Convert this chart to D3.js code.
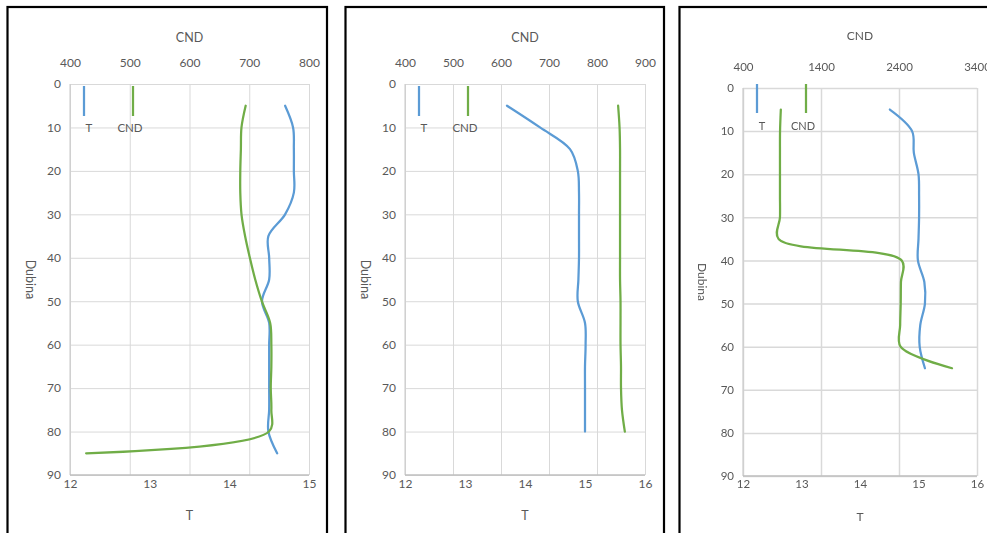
<!DOCTYPE html>
<html>
<head>
<meta charset="utf-8">
<script src="https://cdn.jsdelivr.net/npm/d3@7.9.0/dist/d3.min.js"></script>
<style>
  body { margin: 0; background: #fff; }
  svg { display: block; }
  text { font-family: Lato, "Open Sans", sans-serif; fill: #595959; }
</style>
</head>
<body>
<svg id="chart" width="987" height="533"></svg>
<script>
// ---- data ----
// profile 1
const depth1 = [5, 10, 15, 20, 25, 30, 35, 40, 45, 50, 55, 60, 65, 70, 75, 80, 85];
const temp1  = [14.70, 14.80, 14.81, 14.81, 14.81, 14.70, 14.49, 14.50, 14.50, 14.41, 14.50, 14.50, 14.50, 14.50, 14.50, 14.49, 14.60];
const cnd1   = [694, 687, 686, 685, 685, 687, 693, 701, 710, 721, 735, 737, 737, 736, 737, 733, 427];

// profile 2
const depth2 = [5, 10, 15, 20, 25, 30, 35, 40, 45, 50, 55, 60, 65, 70, 75, 80];
const temp2  = [13.70, 14.25, 14.75, 14.88, 14.90, 14.90, 14.90, 14.90, 14.89, 14.88, 15.00, 15.01, 15.00, 15.00, 15.00, 15.00];
const cnd2   = [844, 847, 848, 848, 848, 848, 848, 848, 848, 849, 849, 849, 850, 850, 852, 858];

// profile 3
const depth3 = [5, 10, 15, 20, 25, 30, 35, 40, 45, 50, 55, 60, 65];
const temp3  = [14.51, 14.89, 14.92, 15.00, 15.01, 15.01, 15.00, 14.99, 15.10, 15.11, 15.03, 15.02, 15.11];
const cnd3   = [885, 875, 874, 874, 874, 874, 855, 2435, 2425, 2422, 2415, 2420, 3080];

// tick labels
const depthTicks = [0, 10, 20, 30, 40, 50, 60, 70, 80, 90];
const tTicks1    = [12, 13, 14, 15];
const tTicks2    = [12, 13, 14, 15, 16];
const cndTicks1  = [400, 500, 600, 700, 800];
const cndTicks2  = [400, 500, 600, 700, 800, 900];
const cndTicks3  = [400, 1400, 2400, 3400];

const seriesNames = ["T", "CND"];
const colors = { T: "#5b9bd5", CND: "#70ad47" };

///////////////////////////////////////////////////////

const svg = d3.select("#chart");

svg.append("defs").append("filter")
    .attr("id", "soft")
    .append("feGaussianBlur")
    .attr("stdDeviation", 0.55);

const fmt = d3.format("d");

// FUNCTION draw one profile panel
function drawPanel(cfg) {
    const { left, right, top, bottom } = cfg.plot;

    const g = svg.append("g");
    if (cfg.blur) g.attr("filter", "url(#soft)");

    const tScale = d3.scaleLinear().domain(cfg.tDomain).range([left, right]);
    const cScale = d3.scaleLinear().domain(cfg.cDomain).range([left, right]);
    const yScale = d3.scaleLinear().domain([0, 90]).range([top, bottom]);

    // horizontal grid
    g.append("g")
        .attr("transform", `translate(${left},0)`)
        .call(d3.axisLeft(yScale).tickValues(depthTicks).tickSize(-(right - left)).tickFormat(""))
        .call(a => a.select(".domain").remove())
        .selectAll("line").attr("stroke", "#d9d9d9").attr("stroke-width", cfg.gridW);

    // vertical grid (from secondary CND axis)
    g.append("g")
        .attr("transform", `translate(0,${top})`)
        .call(d3.axisTop(cScale).tickValues(cfg.cTicks).tickSize(-(bottom - top)).tickFormat(""))
        .call(a => a.select(".domain").remove())
        .selectAll("line").attr("stroke", "#d9d9d9").attr("stroke-width", cfg.gridW);

    // axis lines
    g.append("line")
        .attr("x1", left).attr("x2", left).attr("y1", top).attr("y2", bottom)
        .attr("stroke", "#c8c8c8").attr("stroke-width", 1);
    g.append("line")
        .attr("x1", left).attr("x2", right).attr("y1", bottom).attr("y2", bottom)
        .attr("stroke", "#bfbfbf").attr("stroke-width", 1.5);

    // tick labels
    const styleTicks = a => {
        a.select(".domain").remove();
        a.attr("font-family", null).attr("font-size", null);
        a.selectAll("text").style("font-size", cfg.fs + "px").attr("fill", "#595959");
    };

    g.append("g")
        .attr("transform", `translate(0,${top})`)
        .call(d3.axisTop(cScale).tickValues(cfg.cTicks).tickFormat(fmt).tickSize(0).tickPadding(cfg.topPad))
        .call(styleTicks);

    g.append("g")
        .attr("transform", `translate(0,${bottom})`)
        .call(d3.axisBottom(tScale).tickValues(cfg.tTicks).tickFormat(fmt).tickSize(0).tickPadding(4))
        .call(styleTicks);

    g.append("g")
        .attr("transform", `translate(${left},0)`)
        .call(d3.axisLeft(yScale).tickValues(depthTicks).tickFormat(fmt).tickSize(0).tickPadding(9))
        .call(styleTicks);

    // axis titles
    const midX = (left + right) / 2;
    const midY = (top + bottom) / 2;
    g.append("text").attr("x", midX).attr("y", cfg.cndTitleY)
        .attr("text-anchor", "middle").attr("dominant-baseline", "central")
        .style("font-size", (cfg.fs + 0.5) + "px").text("CND");
    g.append("text").attr("x", midX).attr("y", bottom + 40)
        .attr("text-anchor", "middle").attr("dominant-baseline", "central")
        .style("font-size", (cfg.fs + 0.5) + "px").text("T");
    g.append("text")
        .attr("transform", `translate(${left - 40},${midY}) rotate(90)`)
        .attr("text-anchor", "middle").attr("dominant-baseline", "central")
        .style("font-size", (cfg.fs + 0.5) + "px").text("Dubina");

    // series lines
    const curve = d3.curveCatmullRom.alpha(0.5);
    const tLine = d3.line()
        .x((d, i) => tScale(cfg.temp[i]))
        .y(d => yScale(d))
        .curve(curve);
    const cLine = d3.line()
        .x((d, i) => cScale(cfg.cnd[i]))
        .y(d => yScale(d))
        .curve(curve);

    g.append("path").datum(cfg.depth)
        .attr("d", tLine)
        .attr("fill", "none").attr("stroke", colors.T).attr("stroke-width", 2.25)
        .attr("stroke-linejoin", "round").attr("stroke-linecap", "round");
    g.append("path").datum(cfg.depth)
        .attr("d", cLine)
        .attr("fill", "none").attr("stroke", colors.CND).attr("stroke-width", 2.25)
        .attr("stroke-linejoin", "round").attr("stroke-linecap", "round");

    // legend (vertical line samples)
    const lg = cfg.legend;
    seriesNames.forEach((name, i) => {
        const lx = left + lg.dx[i];
        g.append("line")
            .attr("x1", lx).attr("x2", lx)
            .attr("y1", top + lg.y1).attr("y2", top + lg.y2)
            .attr("stroke", colors[name]).attr("stroke-width", 2.25);
        g.append("text")
            .attr("x", lx + lg.tdx[i]).attr("y", top + lg.ty)
            .attr("text-anchor", "middle").attr("dominant-baseline", "central")
            .style("font-size", (cfg.fs - 0.5) + "px")
            .text(name);
    });

    // frame
    svg.append("rect")
        .attr("x", cfg.frame.x).attr("y", cfg.frame.y)
        .attr("width", cfg.frame.w).attr("height", cfg.frame.h)
        .attr("fill", "none").attr("stroke", "#000").attr("stroke-width", 2.2);
}

const panels = [
    {
        frame: { x: 7.5, y: 7, w: 319.5, h: 560 },
        plot: { left: 70, right: 309, top: 84, bottom: 475 },
        tDomain: [12, 15], tTicks: tTicks1,
        cDomain: [400, 800], cTicks: cndTicks1,
        depth: depth1, temp: temp1, cnd: cnd1,
        fs: 12, topPad: 17, cndTitleY: 37, gridW: 1,
        legend: { dx: [14, 63], tdx: [5, -3], y1: 2, y2: 32, ty: 43 }
    },
    {
        frame: { x: 345.5, y: 7, w: 318.5, h: 560 },
        plot: { left: 405, right: 645, top: 84, bottom: 475 },
        tDomain: [12, 16], tTicks: tTicks2,
        cDomain: [400, 900], cTicks: cndTicks2,
        depth: depth2, temp: temp2, cnd: cnd2,
        fs: 12, topPad: 17, cndTitleY: 37, gridW: 1,
        legend: { dx: [14, 63], tdx: [5, -3], y1: 2, y2: 32, ty: 43 }
    },
    {
        frame: { x: 679.5, y: 7, w: 360, h: 560 },
        plot: { left: 743, right: 977, top: 88, bottom: 476 },
        tDomain: [12, 16], tTicks: tTicks2,
        cDomain: [400, 3400], cTicks: cndTicks3,
        depth: depth3, temp: temp3, cnd: cnd3,
        fs: 11.5, topPad: 17, cndTitleY: 35, gridW: 1.5, blur: true,
        legend: { dx: [14, 63], tdx: [5, -3], y1: -4, y2: 25, ty: 37 }
    }
];

panels.forEach(drawPanel);
</script>
</body>
</html>
